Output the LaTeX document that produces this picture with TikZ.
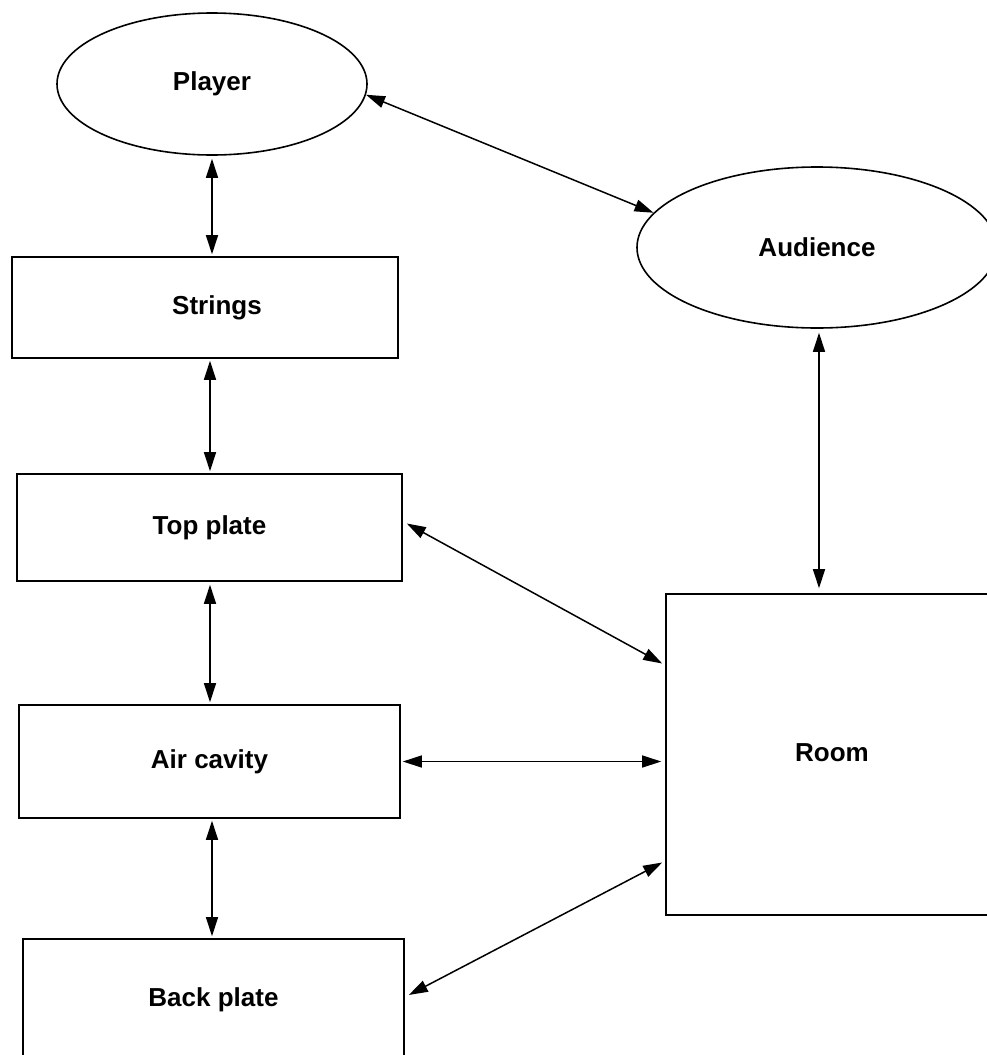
\documentclass[tikz,border=0pt]{standalone}
\usepackage{fontspec}
\setmainfont{Liberation Sans}
\usetikzlibrary{shapes.geometric,arrows.meta,calc}
\begin{document}
\begin{tikzpicture}[x=1pt,y=-1pt,
  nd/.style={font=\fontsize{26}{30}\selectfont\bfseries, inner sep=0pt, line width=1.6pt, draw},
  ell/.style={nd, ellipse},
  box/.style={nd, rectangle},
  arr/.style={line width=1.5pt, {Triangle[length=19pt,width=12pt]}-{Triangle[length=19pt,width=12pt]}}]
\useasboundingbox (0,0) rectangle (987,1055);
\clip (0,0) rectangle (987,1055);
\node[ell, minimum width=310pt, minimum height=142pt] (player) at (212,84) {\raisebox{-4pt}{Player}};
\node[ell, minimum width=360pt, minimum height=161pt] (audience) at (817,247.5) {Audience};
\node[box, minimum width=386pt, minimum height=101pt] (strings) at (205,307.5) {\hspace*{24pt}\raisebox{-3pt}{Strings}};
\node[box, minimum width=385pt, minimum height=107pt] (topplate) at (209.5,527.5) {\raisebox{-2pt}{Top plate}};
\node[box, minimum width=381pt, minimum height=113pt] (aircavity) at (209.5,761.5) {\raisebox{-5pt}{Air cavity}};
\node[box, minimum width=381pt, minimum height=122pt] (backplate) at (213.5,1000) {\raisebox{-3pt}{Back plate}};
\node[box, minimum width=332pt, minimum height=321pt] (room) at (832,754.5) {\raisebox{3pt}{Room}};

\draw[arr] ([yshift=-3pt]player.south) -- ([yshift=2pt]player.south |- strings.north);
\draw[arr] ([xshift=5pt,yshift=-2pt]strings.south) -- ([xshift=5pt,yshift=2pt]strings.south |- topplate.north);
\draw[arr] ([xshift=0.5pt,yshift=-3pt]topplate.south) -- ([xshift=0.5pt,yshift=2pt]topplate.south |- aircavity.north);
\draw[arr] ([xshift=2.5pt,yshift=-2pt]aircavity.south) -- ([xshift=2.5pt,yshift=2pt]aircavity.south |- backplate.north);
\draw[arr] (player.-4) -- (audience.168);
\draw[arr] ([xshift=2pt,yshift=-4pt]audience.south) -- ([xshift=2pt,yshift=5pt]audience.south |- room.north);
\draw[arr] ([xshift=4pt,yshift=4pt]topplate.east) -- ([xshift=-3pt,yshift=91pt]room.west);
\draw[arr] ([xshift=2pt]aircavity.east) -- ([xshift=-4pt]room.west |- aircavity.east);
\draw[arr] ([xshift=4pt,yshift=5pt]backplate.east) -- ([xshift=-3pt,yshift=-108pt]room.west);
\end{tikzpicture}
\end{document}
